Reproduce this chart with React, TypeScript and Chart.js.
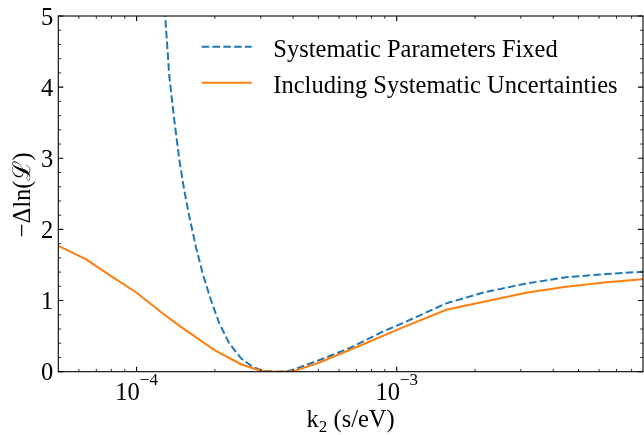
import React, { useEffect, useRef } from "react";
import { Chart, registerables } from "chart.js";

Chart.register(...registerables);

// ---- data ----
const seriesLabels = ["Systematic Parameters Fixed", "Including Systematic Uncertainties"];

const fixedK2 = [
  1.25e-4, 1.288e-4, 1.336e-4, 1.396e-4, 1.46e-4, 1.525e-4, 1.595e-4, 1.69e-4, 1.794e-4, 1.93e-4,
  2.08e-4, 2.27e-4, 2.52e-4, 2.79e-4, 3.05e-4, 3.4e-4, 3.75e-4, 3.98e-4, 5.05e-4, 6.58e-4,
  8.83e-4, 1.05e-3, 1.55e-3, 2.14e-3, 3.15e-3, 4.47e-3, 6.4e-3, 8.85e-3,
];
const fixedDeltaLnL = [
  5.7, 5.0, 4.15, 3.54, 2.975, 2.55, 2.18, 1.757, 1.383, 1.008,
  0.68, 0.4, 0.188, 0.07, 0.014, 0.0, 0.005, 0.024, 0.164, 0.33,
  0.562, 0.68, 0.96, 1.11, 1.24, 1.327, 1.373, 1.405,
];

const inclK2 = [
  5e-5, 6.4e-5, 7.85e-5, 1.0e-4, 1.24e-4, 1.48e-4, 2.0e-4, 2.52e-4, 2.88e-4, 3.2e-4,
  3.5e-4, 4.0e-4, 5.05e-4, 7.6e-4, 1.05e-3, 1.55e-3, 2.14e-3, 3.15e-3, 4.47e-3, 6.4e-3,
  8.85e-3,
];
const inclDeltaLnL = [
  1.77, 1.58, 1.36, 1.11, 0.84, 0.63, 0.3, 0.105, 0.034, 0.0,
  0.0, 0.005, 0.13, 0.4, 0.62, 0.87, 0.98, 1.11, 1.195, 1.257,
  1.3,
];

const xMin = 5e-5;
const xMax = 8.85e-3;
const yMin = 0;
const yMax = 5;

const xMajorTicks = [1e-4, 1e-3];
const xMajorBase = ["10", "10"];
const xMajorExponent = ["\u22124", "\u22123"];
const xMinorTicks = [
  6e-5, 7e-5, 8e-5, 9e-5,
  2e-4, 3e-4, 4e-4, 5e-4, 6e-4, 7e-4, 8e-4, 9e-4,
  2e-3, 3e-3, 4e-3, 5e-3, 6e-3, 7e-3, 8e-3,
];
const yMajorTicks = [0, 1, 2, 3, 4, 5];
const yMinorTicks = [
  0.2, 0.4, 0.6, 0.8, 1.2, 1.4, 1.6, 1.8, 2.2, 2.4, 2.6, 2.8,
  3.2, 3.4, 3.6, 3.8, 4.2, 4.4, 4.6, 4.8,
];

const xTitleMain = "k";
const xTitleSub = "2";
const xTitleRest = " (s/eV)";
const yTitle = "\u2212\u0394ln(\u2112)";

const BLUE = "#1f77b4";
const ORANGE = "#ff7f0e";
const FONT = '"Liberation Serif", "Times New Roman", "DejaVu Serif", serif';
const FS = 24.5;
const FS_SMALL = 17;

const mplPlugin = {
  id: "mplFrame",
  afterDatasetsDraw(chart: any) {
    const { ctx, chartArea: a, scales } = chart;
    const xs = scales.x;
    const ys = scales.y;
    ctx.save();
    ctx.strokeStyle = "#000";
    ctx.setLineDash([]);

    const MAJ = 5;
    const MIN = 2.8;

    const drawX = (vals: number[], len: number, w: number) => {
      ctx.lineWidth = w;
      ctx.beginPath();
      vals.forEach((v) => {
        const px = xs.getPixelForValue(v);
        ctx.moveTo(px, a.bottom);
        ctx.lineTo(px, a.bottom - len);
        ctx.moveTo(px, a.top);
        ctx.lineTo(px, a.top + len);
      });
      ctx.stroke();
    };
    const drawY = (vals: number[], len: number, w: number) => {
      ctx.lineWidth = w;
      ctx.beginPath();
      vals.forEach((v) => {
        const py = ys.getPixelForValue(v);
        ctx.moveTo(a.left, py);
        ctx.lineTo(a.left + len, py);
        ctx.moveTo(a.right, py);
        ctx.lineTo(a.right - len, py);
      });
      ctx.stroke();
    };
    drawX(xMinorTicks, MIN, 0.8);
    drawX(xMajorTicks, MAJ, 1.1);
    drawY(yMinorTicks, MIN, 0.8);
    drawY(yMajorTicks, MAJ, 1.1);

    // frame
    ctx.lineWidth = 1.1;
    ctx.strokeRect(a.left, a.top, a.right - a.left, a.bottom - a.top);

    ctx.fillStyle = "#000";
    // y tick labels
    ctx.font = `${FS}px ${FONT}`;
    ctx.textAlign = "right";
    ctx.textBaseline = "alphabetic";
    yMajorTicks.forEach((v) => {
      ctx.fillText(String(v), a.left - 5, ys.getPixelForValue(v) + 8.5);
    });

    // x tick labels (10^n)
    ctx.textAlign = "left";
    xMajorTicks.forEach((v, i) => {
      const px = xs.getPixelForValue(v);
      ctx.font = `${FS}px ${FONT}`;
      const wb = ctx.measureText(xMajorBase[i]).width;
      ctx.font = `${FS_SMALL}px ${FONT}`;
      const we = ctx.measureText(xMajorExponent[i]).width;
      const x0 = px - (wb + we) / 2;
      ctx.font = `${FS}px ${FONT}`;
      ctx.fillText(xMajorBase[i], x0, a.bottom + 28.3);
      ctx.font = `${FS_SMALL}px ${FONT}`;
      ctx.fillText(xMajorExponent[i], x0 + wb, a.bottom + 13.5);
    });

    // x title
    ctx.font = `${FS}px ${FONT}`;
    const w1 = ctx.measureText(xTitleMain).width;
    const w3 = ctx.measureText(xTitleRest).width;
    ctx.font = `${FS_SMALL}px ${FONT}`;
    const w2 = ctx.measureText(xTitleSub).width;
    const cx = (a.left + a.right) / 2;
    let tx = cx - (w1 + w2 + w3) / 2;
    const base = a.bottom + 55;
    ctx.font = `${FS}px ${FONT}`;
    ctx.fillText(xTitleMain, tx, base);
    tx += w1;
    ctx.font = `${FS_SMALL}px ${FONT}`;
    ctx.fillText(xTitleSub, tx, base + 5);
    tx += w2;
    ctx.font = `${FS}px ${FONT}`;
    ctx.fillText(xTitleRest, tx, base);

    // y title
    ctx.save();
    ctx.translate(30, (a.top + a.bottom) / 2 + 1);
    ctx.rotate(-Math.PI / 2);
    ctx.textAlign = "center";
    ctx.font = `${FS}px ${FONT}`;
    ctx.fillText(yTitle, 0, 0);
    ctx.restore();

    // legend
    const rows = [46.7, 82.7];
    chart.data.datasets.forEach((ds: any, i: number) => {
      const y = rows[i];
      ctx.save();
      ctx.strokeStyle = ds.borderColor;
      ctx.lineWidth = ds.borderWidth;
      ctx.setLineDash(ds.borderDash || []);
      ctx.beginPath();
      ctx.moveTo(201.7, y);
      ctx.lineTo(251.7, y);
      ctx.stroke();
      ctx.restore();
      ctx.fillStyle = "#000";
      ctx.textAlign = "left";
      ctx.font = `${FS}px ${FONT}`;
      ctx.fillText(ds.label, 273.3, y + 10.3);
    });

    ctx.restore();
  },
};

export default function App() {
  const canvasRef = useRef<HTMLCanvasElement | null>(null);

  useEffect(() => {
    const canvas = canvasRef.current;
    if (!canvas) return;
    const chart = new Chart(canvas, {
      type: "line",
      data: {
        datasets: [
          {
            label: seriesLabels[0],
            data: fixedK2.map((x, i) => ({ x, y: fixedDeltaLnL[i] })),
            borderColor: BLUE,
            backgroundColor: BLUE,
            borderWidth: 2,
            borderDash: [7.5, 3.3],
            pointRadius: 0,
            fill: false,
            tension: 0,
            clip: 0,
            order: 1,
          } as any,
          {
            label: seriesLabels[1],
            data: inclK2.map((x, i) => ({ x, y: inclDeltaLnL[i] })),
            borderColor: ORANGE,
            backgroundColor: ORANGE,
            borderWidth: 2,
            pointRadius: 0,
            fill: false,
            tension: 0,
            clip: 0,
            order: 0,
          } as any,
        ],
      },
      options: {
        animation: false,
        responsive: true,
        maintainAspectRatio: false,
        events: [],
        layout: { padding: { left: 58.3, top: 16, right: 1, bottom: 63.3 } },
        plugins: {
          legend: { display: false },
          tooltip: { enabled: false },
        },
        scales: {
          x: { type: "logarithmic", min: xMin, max: xMax, display: false },
          y: { type: "linear", min: yMin, max: yMax, display: false },
        },
      },
      plugins: [mplPlugin],
    });
    return () => chart.destroy();
  }, []);

  return (
    <div style={{ position: "fixed", left: 0, top: 0, width: 644, height: 435, background: "#fff" }}>
      <canvas ref={canvasRef} />
    </div>
  );
}
